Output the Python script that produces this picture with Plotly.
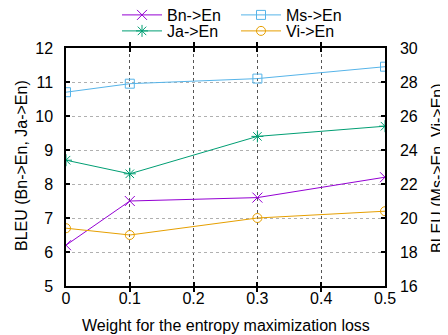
import plotly.graph_objects as go

weights = [0, 0.1, 0.3, 0.5]
bn_en = [6.2, 7.5, 7.6, 8.2]
ja_en = [8.7, 8.3, 9.4, 9.7]
ms_en = [27.4, 27.9, 28.2, 28.9]
vi_en = [19.4, 19.0, 20.0, 20.4]

x_ticks = [0, 0.1, 0.2, 0.3, 0.4, 0.5]
x_tick_labels = ["0", "0.1", "0.2", "0.3", "0.4", "0.5"]

FONT = "Liberation Sans, Arial, sans-serif"
FS = 16

# page offset of the figure div (default body margin)
OFF = 8
W, H = 448 - OFF, 335 - OFF
# plot area in screen pixels
L, R, T, B = 66, 385, 48, 286
PW, PH = R - L, B - T


def px_x(px):
    return (px - L) / PW


def px_y(py):
    return (B - py) / PH


series = [
    ("Bn->En", bn_en, "#9400d3", "x-thin-open", 10, "y", "legend", 117, 15),
    ("Ms->En", ms_en, "#56b4e9", "square-open", 9, "y2", "legend2", 236, 15),
    ("Ja->En", ja_en, "#009e73", "asterisk-open", 10, "y", "legend3", 117, 31),
    ("Vi->En", vi_en, "#e69f00", "circle-open", 9, "y2", "legend4", 236, 31),
]

fig = go.Figure()
legends = {}
for name, vals, color, sym, size, yax, leg, lx, ly in series:
    fig.add_trace(go.Scatter(
        x=weights, y=vals, name=name, mode="lines+markers",
        line=dict(color=color, width=1),
        marker=dict(symbol=sym, size=size, color=color, line=dict(color=color, width=1)),
        yaxis=yax, legend=leg))
    legends[leg] = dict(orientation="h", x=px_x(lx), y=px_y(ly), xanchor="left", yanchor="middle",
                        itemwidth=40, font=dict(size=FS), bgcolor="rgba(0,0,0,0)")

fig.update_layout(
    width=W, height=H,
    margin=dict(l=L - OFF, r=W - (R - OFF), t=T - OFF, b=H - (B - OFF), autoexpand=False),
    paper_bgcolor="white", plot_bgcolor="white",
    font=dict(family=FONT, size=FS, color="black"),
    showlegend=True,
    **legends,
    xaxis=dict(range=[0, 0.5], tickvals=x_ticks, ticktext=x_tick_labels,
               ticks="inside", ticklen=4, tickcolor="black", tickwidth=1.5,
               showline=True, linecolor="black", linewidth=1.5, mirror="allticks",
               showgrid=True, gridcolor="#555555", griddash="dot", gridwidth=1,
               zeroline=False, automargin=False, ticklabelstandoff=-3),
    yaxis=dict(range=[5, 12], dtick=1, ticks="inside", ticklen=4, tickcolor="black", tickwidth=1.5,
               showline=True, linecolor="black", linewidth=1.5,
               showgrid=True, gridcolor="#b0b0b0", griddash="dot", gridwidth=1,
               zeroline=False, ticklabelstandoff=8, automargin=False),
    yaxis2=dict(range=[16, 30], dtick=2, overlaying="y", side="right",
                ticks="inside", ticklen=4, tickcolor="black", tickwidth=1.5,
                showline=True, linecolor="black", linewidth=1.5,
                showgrid=False, zeroline=False, ticklabelstandoff=10, automargin=False),
    annotations=[
        dict(text="Weight for the entropy maximization loss", xref="paper", yref="paper",
             x=px_x(226), y=px_y(325), xanchor="center", yanchor="middle",
             showarrow=False, font=dict(size=FS)),
        dict(text="BLEU (Bn->En, Ja->En)", xref="paper", yref="paper",
             x=px_x(21), y=px_y(166), xanchor="center", yanchor="middle",
             textangle=-90, showarrow=False, font=dict(size=FS)),
        dict(text="BLEU (Ms->En, Vi->En)", xref="paper", yref="paper",
             x=px_x(437), y=px_y(168), xanchor="center", yanchor="middle",
             textangle=-90, showarrow=False, font=dict(size=FS)),
    ],
)

fig.write_html("out.html")
